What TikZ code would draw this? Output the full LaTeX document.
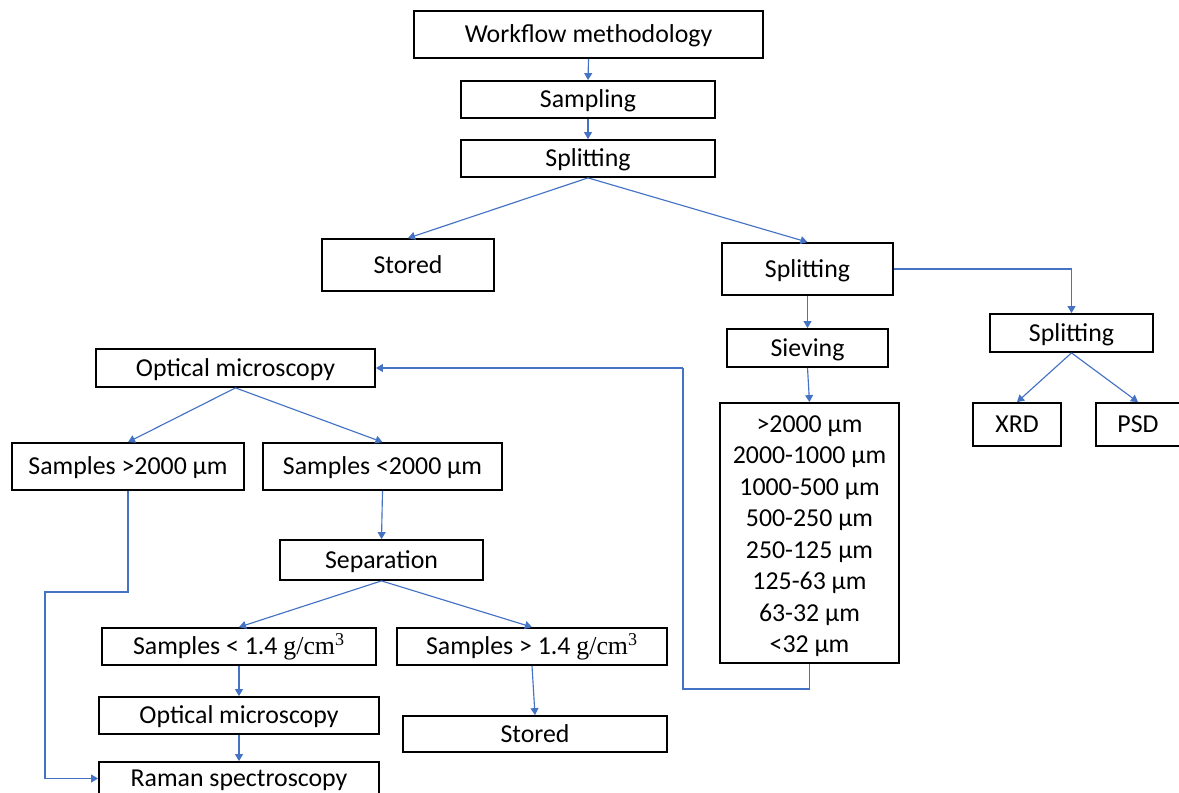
\documentclass[tikz,border=0pt]{standalone}
\usepackage{fontspec}
\setmainfont{Carlito}
\newfontfamily\mathserif{Liberation Serif}
\usetikzlibrary{arrows.meta}
\definecolor{linkblue}{HTML}{4472C4}
\tikzset{
  fbox/.style={draw=black, line width=1pt, fill=white, inner sep=0pt, align=center,
    font=\fontsize{14.7}{17.9}\selectfont, text height=12.8pt, text depth=3.2pt},
  listbox/.style={text height=, text depth=},
  conn/.style={draw=linkblue, line width=0.65pt, -{Triangle[length=4pt,width=4.5pt]}},
  wire/.style={draw=linkblue, line width=0.65pt}
}
% box given by its pixel corners: [extra style] name, x1, y1, x2, y2, text
\newcommand\fb[7][]{%
  \node[fbox, #1, minimum width={(#5-#3)*0.02cm}, minimum height={(#6-#4)*0.02cm}]
    (#2) at ({(#3+#5)/2},{(#4+#6)/2}) {#7};}
\newcommand\dens{{\mathserif g/cm\textsuperscript{3}}}
\begin{document}
\begin{tikzpicture}[x=0.02cm, y=-0.02cm]
\useasboundingbox (0,0) rectangle (1179,792);
\clip (0,0) rectangle (1179,792);
\fill[white] (0,0) rectangle (1179,792);

\fb{wm}{414}{11}{763}{58}{Workflow methodology}
\fb{samp}{461}{81}{715}{118}{Sampling}
\fb{splitA}{461}{140}{715}{177}{Splitting}
\fb{storedA}{322}{239}{494}{291}{Stored}
\fb{splitB}{722}{243}{893}{295}{Splitting}
\fb{splitC}{990}{314}{1153}{352}{Splitting}
\fb{xrd}{973}{403}{1061}{446}{XRD}
\fb{psd}{1096}{403}{1180}{446}{PSD}
\fb{siev}{727}{329}{888}{367}{Sieving}
\fb[listbox]{sizes}{720}{403}{899}{663}{\raisebox{-1.8pt}[\height][\depth]{\begin{tabular}{@{}c@{}}>2000 µm\\2000-1000 µm\\1000-500 µm\\500-250 µm\\250-125 µm\\125-63 µm\\63-32 µm\\<32 µm\end{tabular}}}
\fb{optA}{96}{349}{375}{387}{Optical microscopy}
\fb{big}{12}{443}{244}{490}{Samples >2000 µm}
\fb{small}{263}{443}{502}{490}{Samples <2000 µm}
\fb{sep}{280}{540}{483}{580}{Separation}
\fb{light}{102}{628}{376}{665}{Samples < 1.4 \dens}
\fb{heavy}{397}{628}{667}{665}{Samples > 1.4 \dens}
\fb{optB}{99}{697}{379}{734}{Optical microscopy}
\fb{storedB}{403}{716}{667}{752}{Stored}
\fb{raman}{99}{762}{379}{795}{Raman spectroscopy}

% main trunk
\draw[conn] (wm.south) -- (samp.north);
\draw[conn] (samp.south) -- (splitA.north);
\draw[conn] (splitA.south) -- (storedA.north);
\draw[conn] (splitA.south) -- (splitB.north);

% right branch
\draw[conn] (splitB.east) -| (splitC.north);
\draw[conn] (splitC.south) -- (xrd.north);
\draw[conn] (splitC.south) -- (psd.north);
\draw[conn] (splitB.south) -- (siev.north);
\draw[conn] (siev.south) -- (sizes.north);

% return loop from the size fractions to microscopy
\coordinate (loopA) at (683,689);
\coordinate (loopB) at (683,368);
\draw[wire] (sizes.south) |- (loopA) -- (loopB);
\draw[conn] (loopB) -- (optA.east);

% left branch
\draw[conn] (optA.south) -- (big.north);
\draw[conn] (optA.south) -- (small.north);
\draw[conn] (small.south) -- (sep.north);
\draw[conn] (sep.south) -- (light.north);
\draw[conn] (sep.south) -- (heavy.north);
\draw[conn] (light.south) -- (optB.north);
\draw[conn] (heavy.south) -- (storedB.north);
\draw[conn] (optB.south) -- (raman.north);

% bypass from large samples to Raman
\coordinate (byA) at (128,592);
\coordinate (byB) at (45,592);
\coordinate (byC) at (45,778.5);
\draw[wire] (big.south) -- (byA) -- (byB) -- (byC);
\draw[conn] (byC) -- (raman.west);
\end{tikzpicture}
\end{document}
